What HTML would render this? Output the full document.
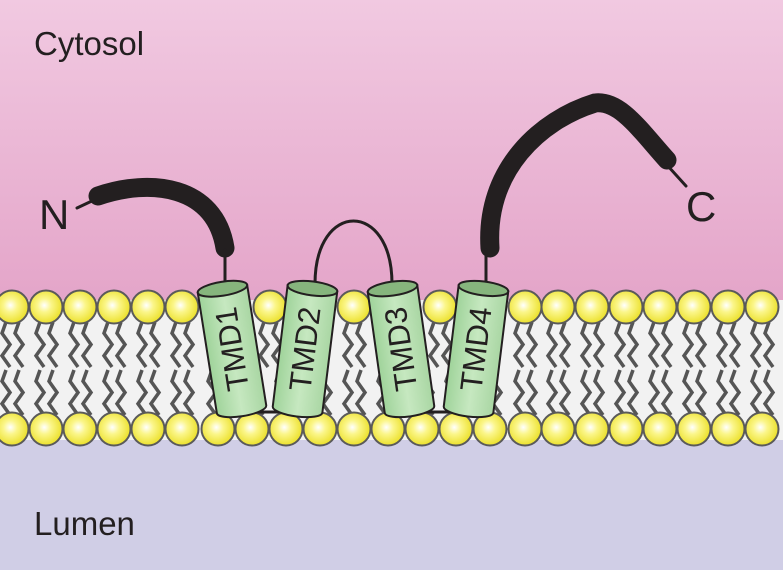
<!DOCTYPE html>
<html><head><meta charset="utf-8"><style>
html,body{margin:0;padding:0;width:783px;height:570px;overflow:hidden}
svg{display:block}
text{font-family:"Liberation Sans",sans-serif;fill:#231f20}
</style></head><body>
<svg id="s" width="783" height="570" viewBox="0 0 783 570">
<defs>
<linearGradient id="bg" x1="0" y1="0" x2="0" y2="1">
<stop offset="0" stop-color="#f1c9e1"/><stop offset="1" stop-color="#e4a5c9"/>
</linearGradient>
<radialGradient id="head" cx="0.45" cy="0.45" r="0.6">
<stop offset="0" stop-color="#ffffff"/><stop offset="0.35" stop-color="#fbf68a"/><stop offset="1" stop-color="#e9dd1e"/>
</radialGradient>
<linearGradient id="cyl" x1="0" y1="0" x2="1" y2="0">
<stop offset="0" stop-color="#9fd39a"/><stop offset="0.5" stop-color="#c6e8c0"/><stop offset="1" stop-color="#a9d6a3"/>
</linearGradient>
</defs>
<rect x="0" y="0" width="783" height="300" fill="url(#bg)"/>
<rect x="0" y="300" width="783" height="140" fill="#f2f2f2"/>
<rect x="0" y="440" width="783" height="130" fill="#d0cee6"/>
<g id="tails"></g>
<g id="heads"></g>
<text x="34" y="55" font-size="33">Cytosol</text>
<text x="34" y="535" font-size="33">Lumen</text>
<text x="39" y="229" font-size="42">N</text>
<text x="686" y="221" font-size="42">C</text>
<g fill="none" stroke="#231f20" stroke-linecap="round">
<line x1="77" y1="208" x2="94" y2="200" stroke-width="3"/>
<path d="M98 196 C150 178 215 185 225 248" stroke-width="19"/>
<line x1="225" y1="250" x2="225" y2="286" stroke-width="3"/>
</g>
<path d="M315 284 C315 200 392 200 392 284" fill="none" stroke="#231f20" stroke-width="3"/>
<g fill="none" stroke="#231f20" stroke-linecap="round">
<path d="M490 248 C485 170 540 120 595 103 C620 100 640 130 667 160" stroke-width="19"/>
<line x1="486" y1="250" x2="486" y2="286" stroke-width="3"/>
<line x1="667" y1="165" x2="686" y2="186" stroke-width="3"/>
</g>
<path d="M252 412 L280 412 M420 412 L450 412" stroke="#231f20" stroke-width="3"/>
<g id="tmds"></g>
</svg>
<script>
const NS='http://www.w3.org/2000/svg';
const s=document.getElementById('s');
function el(t,a,p){const e=document.createElementNS(NS,t);for(const k in a)e.setAttribute(k,a[k]);p.appendChild(e);return e;}
const bottomX=[12,46,80,114,148,182,218,252,286,320,354,388,422,456,490,525,558,592,626,660,694,728,762];
const topX=[12,46,80,114,148,182,270,354,440,525,558,592,626,660,694,728,762];
const tails=document.getElementById('tails'),heads=document.getElementById('heads');
function zig(x,y0,y1){let d='M'+x+' '+y0;let n=4,h=(y1-y0)/n;for(let i=1;i<=n;i++){d+=' L'+(x+(i%2?-4:4))+' '+(y0+h*i);}return d;}
topX.forEach(x=>{[-6,7].forEach(o=>{const p=el('path',{d:zig(x+o,322,367),fill:'none',stroke:'#555','stroke-width':3.5},tails);

});});
bottomX.forEach(x=>{[-6,7].forEach(o=>{const p=el('path',{d:zig(x+o,370,415),fill:'none',stroke:'#555','stroke-width':3.5},tails);

});});
topX.forEach(x=>{const c=el('circle',{cx:x,cy:307,r:16.5,fill:'url(#head)',stroke:'#5a5a5a','stroke-width':2},heads);

});
bottomX.forEach(x=>{const c=el('circle',{cx:x,cy:429,r:16.5,fill:'url(#head)',stroke:'#5a5a5a','stroke-width':2},heads);

});
const tmdLabels=['TMD1','TMD2','TMD3','TMD4'];
const tmdCx=[232,305,401,476];
const tmdRot=[-9,7,-8,7];
const tg=document.getElementById('tmds');
tmdLabels.forEach((lab,i)=>{
 const g=el('g',{transform:`translate(${tmdCx[i]},349) rotate(${tmdRot[i]})`},tg);
 
 
 el('path',{d:'M-25 -61 L-25 61 A25 7 0 0 0 25 61 L25 -61 Z',fill:'url(#cyl)',stroke:'#231f20','stroke-width':2},g);
 el('ellipse',{cx:0,cy:-61,rx:25,ry:7,fill:'#86b57d',stroke:'#231f20','stroke-width':2},g);
 const t=el('text',{x:0,y:0,'font-size':31,'text-anchor':'middle','dominant-baseline':'central',transform:'rotate(-90)'},g);
 t.textContent=lab;
});
</script>
</body></html>
